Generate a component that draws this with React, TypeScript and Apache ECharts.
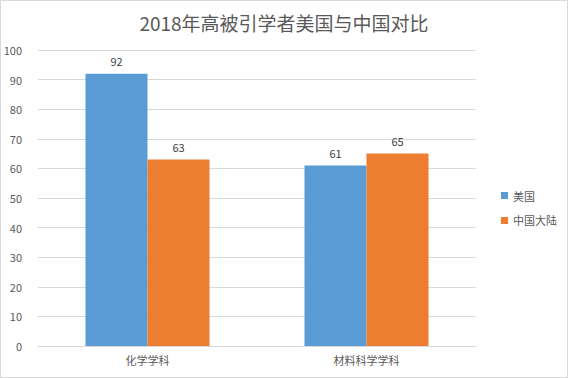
import React, { useEffect, useRef } from "react";
import * as echarts from "echarts";

const categories = ["化学学科", "材料科学学科"];
const usValues = [92, 61];
const cnValues = [63, 65];
const seriesNames = ["美国", "中国大陆"];

export default function App() {
  const ref = useRef<HTMLDivElement>(null);
  useEffect(() => {
    const chart = echarts.init(ref.current!, null, { renderer: "svg" });
    const font = "'Noto Sans CJK SC', 'Noto Sans', sans-serif";
    chart.setOption({
      animation: false,
      backgroundColor: "#fff",
      textStyle: { fontFamily: font },
      title: {
        text: "2018年高被引学者美国与中国对比",
        left: "center",
        top: 8,
        textStyle: { fontSize: 19, fontWeight: "normal", color: "#595959", fontFamily: font },
      },
      legend: {
        orient: "vertical",
        left: 496,
        top: 185,
        itemWidth: 7,
        itemHeight: 7,
        itemGap: 14,
        icon: "rect",
        textStyle: { fontSize: 11, color: "#595959" },
        data: seriesNames,
      },
      grid: { left: 38, right: 92, top: 50, bottom: 32, containLabel: false },
      xAxis: {
        type: "category",
        data: categories,
        axisLine: { lineStyle: { color: "#d9d9d9" } },
        axisTick: { show: false },
        axisLabel: { fontSize: 11, color: "#595959", margin: 8 },
      },
      yAxis: {
        type: "value",
        min: 0,
        max: 100,
        interval: 10,
        axisLine: { show: false },
        axisTick: { show: false },
        splitLine: { lineStyle: { color: "#d9d9d9" } },
        axisLabel: { fontSize: 11, color: "#595959", margin: 16 },
      },
      series: [
        {
          name: seriesNames[0],
          type: "bar",
          data: usValues,
          barWidth: 62,
          barGap: "0%",
          itemStyle: { color: "#5b9bd5" },
          label: { show: true, position: "top", distance: 7, fontSize: 11, color: "#404040" },
        },
        {
          name: seriesNames[1],
          type: "bar",
          data: cnValues,
          barWidth: 62,
          barGap: "0%",
          itemStyle: { color: "#ed7d31" },
          label: { show: true, position: "top", distance: 7, fontSize: 11, color: "#404040" },
        },
      ],
      graphic: [
        {
          type: "rect",
          shape: { x: 0.5, y: 0.5, width: 567, height: 377 },
          style: { fill: "none", stroke: "#d9d9d9", lineWidth: 1 },
          silent: true,
        },
      ],
    });
    return () => chart.dispose();
  }, []);
  return (
    <div
      ref={ref}
      style={{ position: "fixed", left: 0, top: 0, width: 568, height: 378 }}
    />
  );
}
